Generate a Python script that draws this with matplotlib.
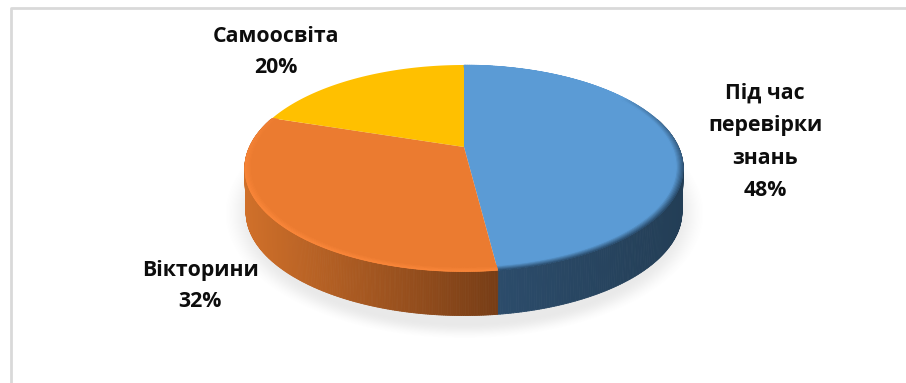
import numpy as np
import matplotlib
matplotlib.use("Agg")
import matplotlib.pyplot as plt
from matplotlib.collections import PolyCollection
from matplotlib.colors import to_rgb

labels = ["Під час\nперевірки\nзнань", "Вікторини", "Самоосвіта"]
values = [48, 32, 20]
colors = ["#5B9BD5", "#EB7B30", "#FFC000"]
rim_colors = ["#1F3A54", "#FF8A3C", "#FFC000"]
wall_left = ["#2C4C6B", "#D0702A", "#D9A300"]
wall_right = ["#233E56", "#773D16", "#A67C00"]
label_pos = [(765, 142), (200, 286), (276, 52)]
line_gaps = [1.72, 1.66, 1.66]

WIDTH, HEIGHT = 906, 383

# perspective disc: apex, axis scales, foreshortening
CX, CY = 464, 147
A, B, K = 214.5, 98.9, 0.206
DEPTH = 44


def project(theta, r=1.0, drop=0.0):
    # theta runs clockwise from twelve o'clock
    u = r * np.sin(theta)
    v = r * np.cos(theta)
    d = 1 + K * v
    shrink = 1 - 0.006 * drop / DEPTH
    return CX + A * u / d * shrink, CY - B * v / d + drop


def mix(c0, c1, f):
    return tuple((1 - f) * np.array(to_rgb(c0)) + f * np.array(to_rgb(c1)))


fig = plt.figure(figsize=(WIDTH / 100, HEIGHT / 100), dpi=100)
ax = fig.add_axes([0, 0, 1, 1])
ax.set_xlim(0, WIDTH)
ax.set_ylim(HEIGHT, 0)
ax.axis("off")

# chart frame
ax.plot([10.5, 10.5, WIDTH], [HEIGHT, 7.5, 7.5], color="#D9D9D9", lw=2, zorder=1)

# soft shadow below the disc
gx, gy = np.meshgrid(np.arange(WIDTH), np.arange(HEIGHT))
dist = np.sqrt(((gx - 464) / 226) ** 2 + ((gy - 213) / 118) ** 2)
ramp = np.clip((1.07 - dist) / 0.14, 0, 1)
shadow = np.zeros((HEIGHT, WIDTH, 4))
shadow[..., :3] = 0.5
shadow[..., 3] = ramp * ramp * (3 - 2 * ramp) * 0.17
ax.imshow(shadow, extent=(0, WIDTH, HEIGHT, 0), aspect="auto", zorder=2, interpolation="bilinear")

edges = np.r_[0, np.cumsum(values)] / sum(values) * 2 * np.pi

# side wall in thin strips, shaded from left to right
for i in range(len(values)):
    t = np.linspace(edges[i], edges[i + 1], 300)
    t = t[np.cos(t) < 0.3]
    if len(t) < 2:
        continue
    x, y = project(t)
    polys, cols = [], []
    for j in range(len(t) - 1):
        x2, y2 = project(t[j + 1], drop=DEPTH)
        x3, y3 = project(t[j], drop=DEPTH)
        polys.append([(x[j], y[j]), (x[j + 1], y[j + 1]), (x2, y2), (x3, y3)])
        cols.append(mix(wall_left[i], wall_right[i], (x[j] - x.min()) / (x.max() - x.min())))
    ax.add_collection(PolyCollection(polys, facecolors=cols, edgecolors=cols, linewidths=0.6, zorder=3))

# top faces
for i in range(len(values)):
    t = np.linspace(edges[i], edges[i + 1], 300)
    x, y = project(t)
    ax.fill(np.r_[CX, x], np.r_[CY, y], color=colors[i], lw=0, zorder=5)

# bevel along the rim, strongest on the side facing the viewer
rings = np.linspace(1.0, 0.965, 8)
for i in range(2):
    t = np.linspace(edges[i], edges[i + 1], 300)
    polys, cols = [], []
    for n in range(len(rings) - 1):
        fade = (rings[n + 1] - rings[-1]) / (rings[0] - rings[-1])
        x0, y0 = project(t, rings[n])
        x1, y1 = project(t, rings[n + 1])
        for j in range(len(t) - 1):
            face = np.clip(0.55 - np.cos(t[j]), 0, 1) if i == 0 else np.clip(0.35 - np.cos(t[j]), 0, 1)
            polys.append([(x0[j], y0[j]), (x0[j + 1], y0[j + 1]), (x1[j + 1], y1[j + 1]), (x1[j], y1[j])])
            cols.append(mix(colors[i], rim_colors[i], fade * face ** 0.5 * 0.95))
    ax.add_collection(PolyCollection(polys, facecolors=cols, edgecolors=cols, linewidths=0.4, zorder=6))

for text, val, (px, py), gap in zip(labels, values, label_pos, line_gaps):
    ax.text(px, py, f"{text}\n{val}%", ha="center", va="center", family="Open Sans",
            fontweight="bold", fontsize=15.3, linespacing=gap, color="#0D0D0D", zorder=8)

fig.savefig("out.png", dpi=100)
